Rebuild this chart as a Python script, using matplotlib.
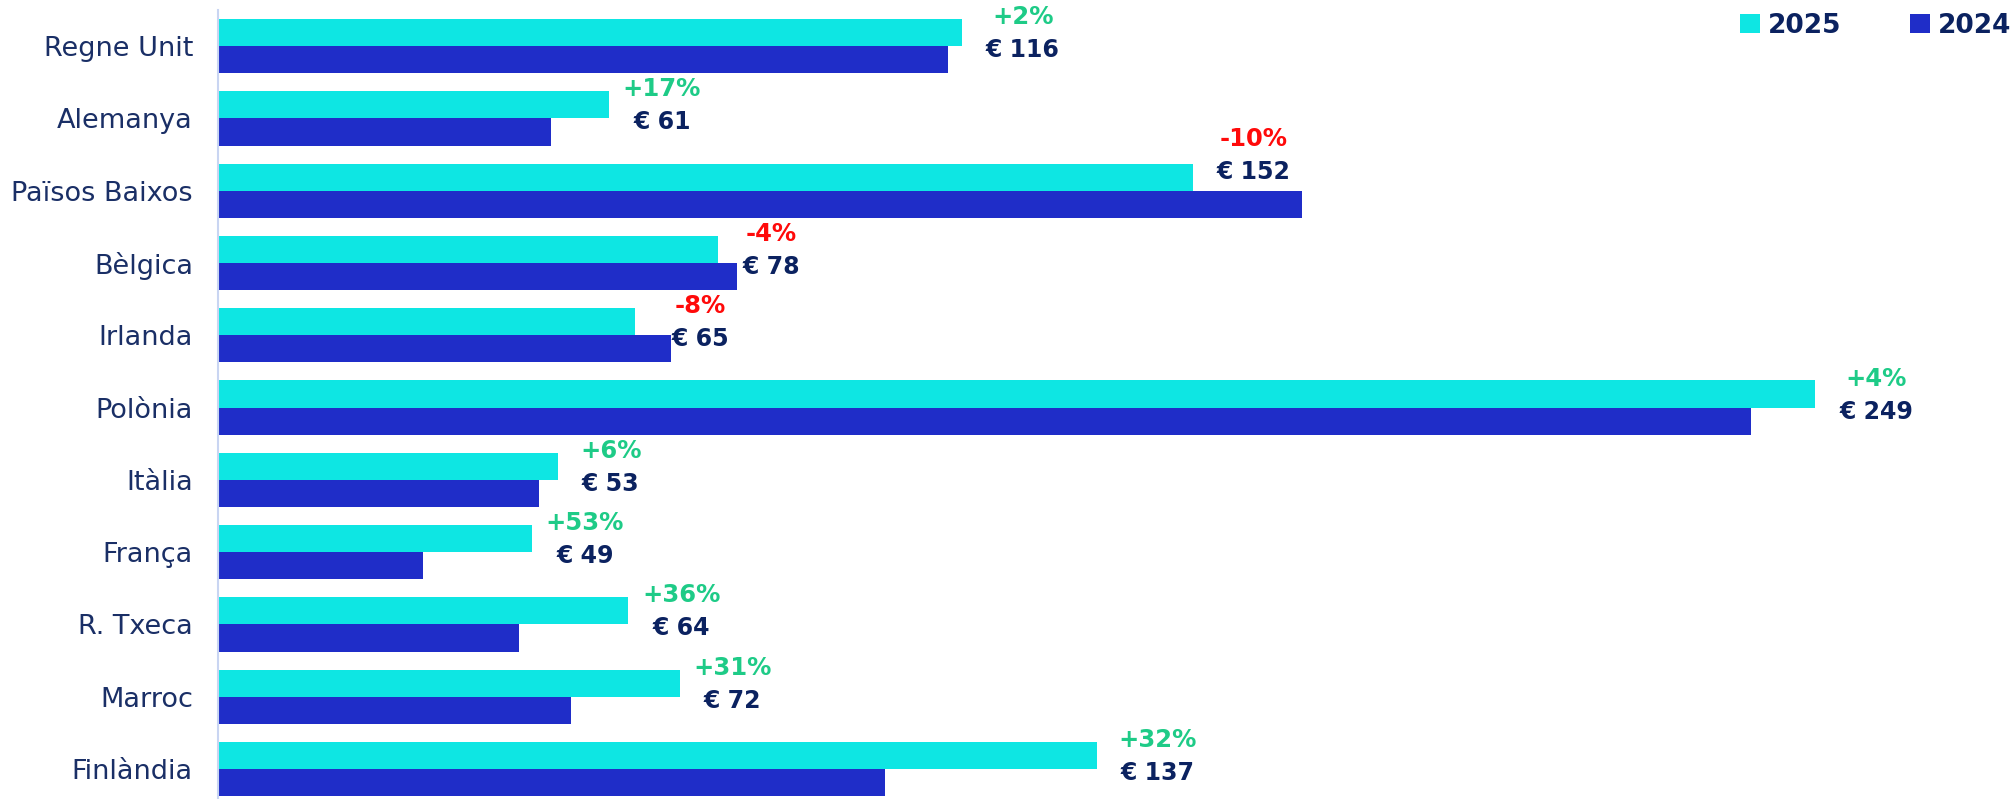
import matplotlib

matplotlib.use("Agg")

import matplotlib.pyplot as plt
import numpy as np

countries = ["Regne Unit", "Alemanya", "Països Baixos", "Bèlgica", "Irlanda", "Polònia",
             "Itàlia", "França", "R. Txeca", "Marroc", "Finlàndia"]
values_2025 = [116, 61, 152, 78, 65, 249, 53, 49, 64, 72, 137]
values_2024 = [113.8, 52, 169, 81, 70.7, 239, 50, 32, 47, 55, 104]
change_labels = ["+2%", "+17%", "-10%", "-4%", "-8%", "+4%", "+6%", "+53%", "+36%", "+31%", "+32%"]
value_labels = ["€ 116", "€ 61", "€ 152", "€ 78", "€ 65", "€ 249", "€ 53", "€ 49", "€ 64", "€ 72", "€ 137"]

CYAN = "#0EE6E3"
BLUE = "#1F2DC8"
NAVY = "#0B2260"
LABEL_NAVY = "#1A2F66"
GREEN = "#1ECB87"
RED = "#FF0A0A"

fig = plt.figure(figsize=(20.14, 7.99), dpi=100)
ax = fig.add_axes([0.1082, 0.0, 0.8918, 789 / 799])

y = np.arange(len(countries))
h = 0.375
ax.barh(y - h / 2, values_2025, height=h, color=CYAN, label="2025")
ax.barh(y + h / 2, values_2024, height=h, color=BLUE, label="2024")

ax.set_xlim(0, 280)
ax.set_ylim(10.415, -0.5)
ax.set_xticks([])
ax.set_yticks(y)
ax.set_yticklabels(countries, fontsize=19.5, color=LABEL_NAVY, family="DejaVu Sans")
ax.tick_params(axis="y", length=0, pad=18)
for side in ("top", "right", "bottom"):
    ax.spines[side].set_visible(False)
ax.spines["left"].set_color("#C9D5F2")
ax.spines["left"].set_linewidth(1.5)

# value labels just past the bars, change % centred above them;
# when the 2024 bar runs far past the 2025 one the label is lifted instead
fig.canvas.draw()
renderer = fig.canvas.get_renderer()
to_px = ax.transData.transform
for i in range(len(countries)):
    x25 = to_px((values_2025[i], 0))[0] + 24
    x24 = to_px((values_2024[i], 0))[0]
    dy = -4
    if x24 - x25 > 50:
        dy = 19
        x_px = x25
    else:
        x_px = max(x25, x24)
    yc = to_px((0, y[i]))[1] + dy
    t = ax.annotate(value_labels[i], xy=(x_px, yc), xycoords="figure pixels", ha="left", va="center",
                    fontsize=17, fontweight="bold", color=NAVY)
    bb = t.get_window_extent(renderer=renderer)
    cx = (bb.x0 + bb.x1) / 2
    col = RED if change_labels[i].startswith("-") else GREEN
    ax.annotate(change_labels[i], xy=(cx, yc + 33), xycoords="figure pixels",
                ha="center", va="center", fontsize=17.5, fontweight="bold", color=col)

leg = ax.legend(loc="upper right", bbox_to_anchor=(1.0, 1.0), ncol=2, frameon=False,
                handlelength=0.75, handleheight=0.75, handletextpad=0.3, columnspacing=2.6,
                borderaxespad=0.0, borderpad=0.1, prop={"size": 19, "weight": "bold"})
for txt in leg.get_texts():
    txt.set_color(NAVY)

fig.savefig("out.png", dpi=100)
